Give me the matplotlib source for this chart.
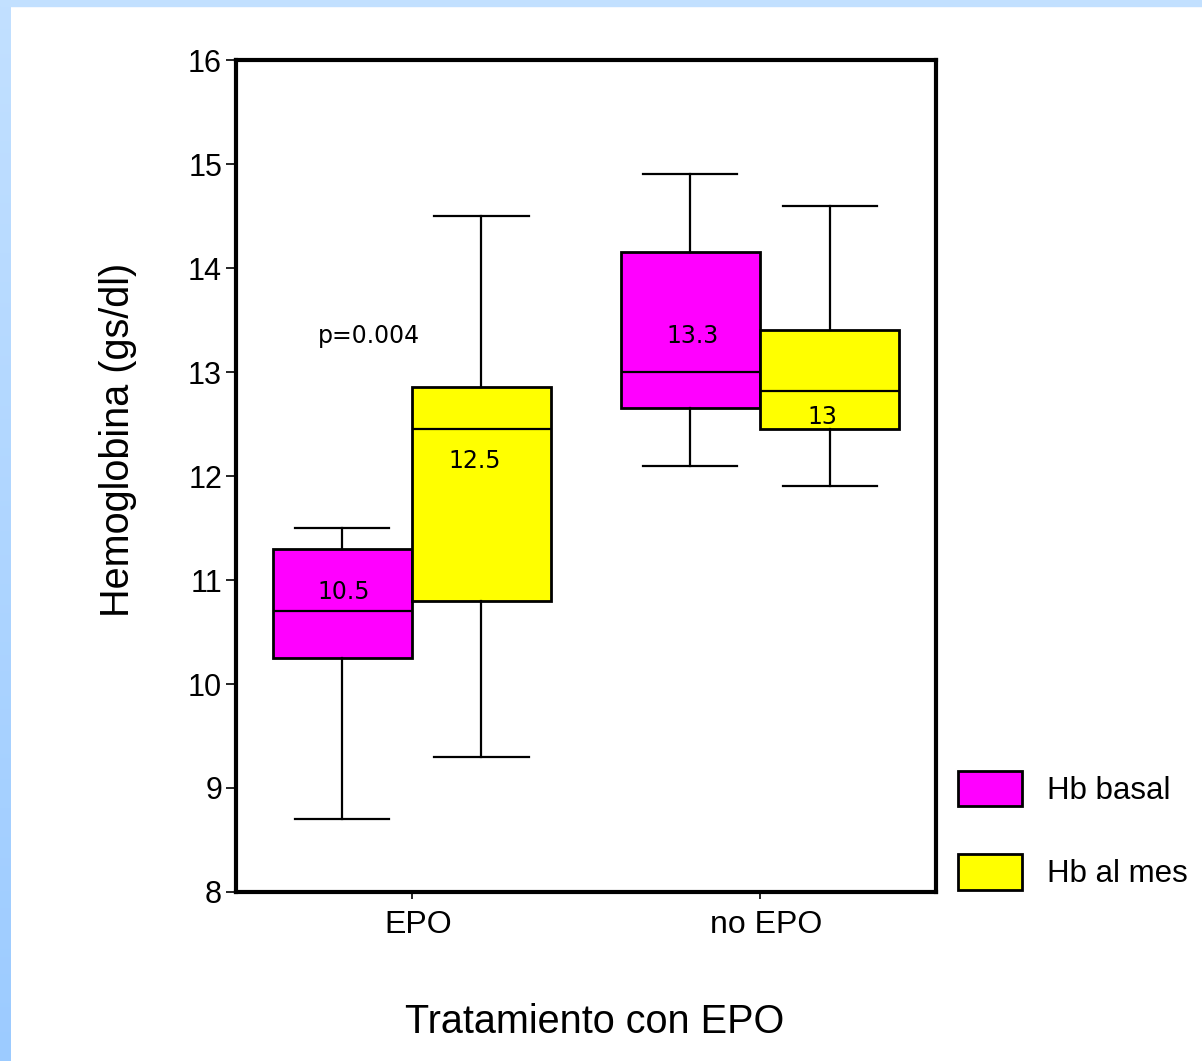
import numpy as np
import matplotlib.pyplot as plt
import matplotlib.patches as patches
import matplotlib.transforms as mtransforms

# datos
grupos = ['EPO', 'no EPO']
series = ['Hb basal', 'Hb al mes']
colores = ['#ff00ff', '#ffff00']

# [EPO, no EPO]
basal_min = [8.7, 12.1]
basal_q1 = [10.25, 12.65]
basal_med = [10.7, 13.0]
basal_q3 = [11.3, 14.15]
basal_max = [11.5, 14.9]

mes_min = [9.3, 11.9]
mes_q1 = [10.8, 12.45]
mes_med = [12.45, 12.82]
mes_q3 = [12.86, 13.4]
mes_max = [14.5, 14.6]

etiqueta_basal = ['10.5', '13.3']
etiqueta_mes = ['12.5', '13']
etiqueta_basal_y = [10.88, 13.35]
etiqueta_mes_y = [12.14, 12.57]

fig = plt.figure(figsize=(12.02, 10.61), dpi=100)

# borde azul de la diapositiva
bg = fig.add_axes([0, 0, 11 / 1202, 1])
grad = np.linspace(0, 1, 256).reshape(-1, 1)
bg.imshow(grad, aspect='auto', cmap=plt.matplotlib.colors.LinearSegmentedColormap.from_list(
    'b', ['#9ccbff', '#c2e0ff']), origin='lower', extent=[0, 1, 0, 1])
bg.axis('off')
fig.patches.append(patches.Rectangle((0, 1 - 6 / 1061), 1, 6 / 1061, transform=fig.transFigure,
                                     color='#c2e0ff', zorder=0))

ax = fig.add_axes([0.1963, 0.1593, 0.5824, 0.7841])

w = 0.4
for k, (mn, q1, med, q3, mx, col, off) in enumerate([
        (basal_min, basal_q1, basal_med, basal_q3, basal_max, colores[0], -w / 2),
        (mes_min, mes_q1, mes_med, mes_q3, mes_max, colores[1], w / 2)]):
    stats = []
    for i in range(len(grupos)):
        stats.append({'whislo': mn[i], 'q1': q1[i], 'med': med[i], 'q3': q3[i],
                      'whishi': mx[i], 'fliers': []})
    pos = [i + 1 + off for i in range(len(grupos))]
    ax.bxp(stats, positions=pos, widths=w, capwidths=0.27, patch_artist=True,
           showfliers=False, manage_ticks=False,
           boxprops=dict(facecolor=col, edgecolor='black', linewidth=2),
           medianprops=dict(color='black', linewidth=1.6),
           whiskerprops=dict(color='black', linewidth=1.6),
           capprops=dict(color='black', linewidth=1.6))

for i in range(len(grupos)):
    ax.text(i + 1 - w / 2 + 0.005, etiqueta_basal_y[i], etiqueta_basal[i], ha='center', va='center',
            fontsize=17, family='DejaVu Sans')
    ax.text(i + 1 + w / 2 - 0.02, etiqueta_mes_y[i], etiqueta_mes[i], ha='center', va='center',
            fontsize=17, family='DejaVu Sans')
ax.text(0.878, 13.35, 'p=0.004', ha='center', va='center', fontsize=17, family='DejaVu Sans')

ax.set_xlim(0.495, 2.505)
ax.set_ylim(8, 16)
ax.set_yticks(range(8, 17))
ax.set_xticks([1, 2])
ax.set_xticklabels(grupos)
for s in ax.spines.values():
    s.set_linewidth(3)
ax.tick_params(axis='y', labelsize=22, width=1.2, length=7, pad=3)
ax.tick_params(axis='x', labelsize=23, width=1.2, length=5, pad=8)
for lab in ax.get_xticklabels() + ax.get_yticklabels():
    lab.set_family('Liberation Sans')
desplaza = mtransforms.ScaledTranslation(6 / 100, 0, fig.dpi_scale_trans)
for lab in ax.get_xticklabels():
    lab.set_transform(lab.get_transform() + desplaza)

ax.set_ylabel('Hemoglobina (gs/dl)', fontsize=28.5, family='Liberation Sans', va='center')
ax.yaxis.set_label_coords(-0.169, 0.543)
ax.set_xlabel('Tratamiento con EPO', fontsize=28.5, family='Liberation Sans', va='center')
ax.xaxis.set_label_coords(0.513, -0.156)

# leyenda
handles = [patches.Patch(facecolor=c, edgecolor='black', linewidth=2) for c in colores]
fig.legend(handles, series, loc='upper left', bbox_to_anchor=(958 / 1202, 1 - 771 / 1061),
           frameon=False, borderpad=0, borderaxespad=0,
           prop={'family': 'Liberation Sans', 'size': 22.5}, handlelength=2.05, handleheight=1.37,
           labelspacing=1.53, handletextpad=0.8)

fig.savefig('out.png', dpi=100)
